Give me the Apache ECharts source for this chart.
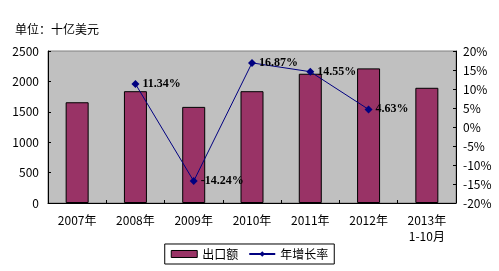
<!DOCTYPE html>
<html><head><meta charset="utf-8">
<script src="https://cdn.jsdelivr.net/npm/echarts@6/dist/echarts.min.js"></script>
<style>html,body{margin:0;padding:0;background:#fff}#c{width:499px;height:271px}</style>
</head><body><div id="c"></div>
<script>
var categories = ['2007年','2008年','2009年','2010年','2011年','2012年','2013年\n1-10月'];
var exports = [1657, 1839, 1581, 1839, 2126, 2214, 1895];
var growth = [null, 11.34, -14.24, 16.87, 14.55, 4.63, null];
var leftTicks = [0, 500, 1000, 1500, 2000, 2500];
var rightTicks = [-20, -15, -10, -5, 0, 5, 10, 15, 20];

var font = '"Noto Sans CJK SC", "DejaVu Sans", sans-serif';
var chart = echarts.init(document.getElementById('c'), null, {renderer: 'canvas'});
chart.setOption({
  animation: false,
  backgroundColor: '#fff',
  title: {text: '单位：十亿美元', left: 10, top: 18, textStyle: {fontSize: 12, fontWeight: 'normal', color: '#000', fontFamily: font}},
  grid: {left: 48, right: 43, top: 51, bottom: 68, show: true, backgroundColor: '#c0c0c0', borderColor: '#808080', borderWidth: 1},
  legend: {
    bottom: 7, left: 'center', itemGap: 10,
    padding: [4, 6], borderColor: '#000', borderWidth: 1, borderRadius: 0,
    textStyle: {fontSize: 12, color: '#000', fontFamily: font},
    data: [
      {name: '出口额', icon: 'rect', itemStyle: {borderColor: '#000', borderWidth: 1}},
      {name: '年增长率'}
    ],
    itemWidth: 26, itemHeight: 7
  },
  xAxis: {
    type: 'category', data: categories,
    axisLine: {lineStyle: {color: '#000'}},
    axisTick: {show: true, inside: true, length: 3, lineStyle: {color: '#000'}},
    axisLabel: {fontSize: 12, color: '#000', fontFamily: font, margin: 9, lineHeight: 16, interval: 0}
  },
  yAxis: [
    {type: 'value', min: leftTicks[0], max: leftTicks[leftTicks.length-1], interval: 500,
     axisLine: {show: true, lineStyle: {color: '#000'}},
     axisTick: {show: true, inside: true, length: 3, lineStyle: {color: '#000'}},
     splitLine: {show: false},
     axisLabel: {fontSize: 12, color: '#000', fontFamily: font, margin: 9, formatter: function(v){ return String(v); }}},
    {type: 'value', min: rightTicks[0], max: rightTicks[rightTicks.length-1], interval: 5,
     axisLine: {show: true, lineStyle: {color: '#000'}},
     axisTick: {show: true, inside: true, length: 3, lineStyle: {color: '#000'}},
     splitLine: {show: false},
     axisLabel: {fontSize: 12, color: '#000', fontFamily: font, margin: 7, formatter: '{value}%'}}
  ],
  series: [
    {name: '出口额', type: 'bar', data: exports, barWidth: 23,
     itemStyle: {color: '#993366', borderColor: '#000', borderWidth: 1}},
    {name: '年增长率', type: 'line', yAxisIndex: 1, data: growth, connectNulls: false,
     symbol: 'diamond', symbolSize: 8,
     lineStyle: {color: '#000080', width: 1}, itemStyle: {color: '#000080'},
     label: {show: true, position: 'right', distance: 3, color: '#000', fontSize: 12, fontWeight: 'bold', fontFamily: '"Liberation Serif", serif',
       formatter: function(p){ return p.value.toFixed(2) + '%'; }}}
  ]
});
</script></body></html>
